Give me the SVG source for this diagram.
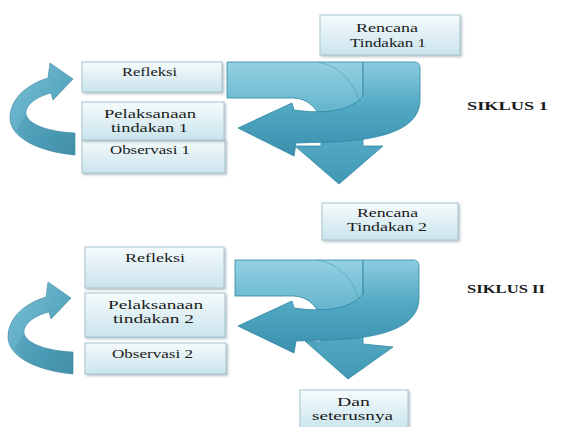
<svg xmlns="http://www.w3.org/2000/svg" width="563" height="427" viewBox="0 0 563 427">
<defs>
<linearGradient id="boxg" x1="0" y1="0" x2="0" y2="1">
<stop offset="0" stop-color="#f6fbfc"/>
<stop offset="1" stop-color="#c9e4ed"/>
</linearGradient>
<linearGradient id="ag" x1="0" y1="0" x2="0" y2="1">
<stop offset="0" stop-color="#94d0e2"/>
<stop offset="0.45" stop-color="#5fb2cb"/>
<stop offset="1" stop-color="#3f98b4"/>
</linearGradient>
<linearGradient id="bg" x1="0" y1="0" x2="0" y2="1">
<stop offset="0" stop-color="#8ccbdf"/>
<stop offset="0.5" stop-color="#4fa7c2"/>
<stop offset="1" stop-color="#3a90ad"/>
</linearGradient>
<linearGradient id="rg" x1="0" y1="0" x2="1" y2="1">
<stop offset="0" stop-color="#7cc2d7"/>
<stop offset="0.6" stop-color="#55a5bf"/>
<stop offset="1" stop-color="#4590aa"/>
</linearGradient>
<filter id="sh" x="-10%" y="-10%" width="130%" height="140%">
<feDropShadow dx="1.5" dy="1.5" stdDeviation="1" flood-color="#6d8791" flood-opacity="0.5"/>
</filter>
</defs>
<style>
.box{fill:url(#boxg);stroke:#a7c4ce;stroke-width:1;filter:url(#sh)}
.t{font-family:'Liberation Serif','DejaVu Serif',serif;font-size:12.5px;fill:#1a1a1a}
.s{font-family:'Liberation Serif','DejaVu Serif',serif;font-size:13px;font-weight:bold;fill:#1a1a1a}
.a{fill:url(#ag);stroke:#2f87a3;stroke-width:0.8}
.b{fill:url(#bg);stroke:#2f87a3;stroke-width:0.8}
.r{fill:url(#rg);stroke:#3a859f;stroke-width:0.6}
.ln{fill:none;stroke:#3d93ae;stroke-width:1;opacity:0.5}
.dk{fill:#3a8aa5;opacity:0.3}
</style>

<g id="connectors">
<path class="a" d="M227,62 H363 V146 H383 L339,184 L295,146 H321 V126 A28,28 0 0 0 293,98 H227 Z"/>
<path class="ln" d="M318,62 C340,66 356,84 361,108"/>
<path class="b" d="M363,62 H414 Q420,62 420,68 V100 C420,126 390,140 330,142 L296,143 L294,156 L238,128 L292,103 L294,110 C322,114 350,112 363,96 Z"/>
<path class="a" d="M235,260 H363 V344 L393,347 L348,379 L305,341 L321,342 V324 A28,28 0 0 0 293,296 H235 Z"/>
<path class="ln" d="M318,260 C340,264 356,282 361,306"/>
<path class="b" d="M363,260 H413 Q419,260 419,266 V298 C419,324 390,338 330,340 L296,341 L294,353 L238,326 L292,301 L294,308 C322,312 350,310 363,294 Z"/>
<g id="ribbon1">
<path class="r" d="M75,155 C40,152 10,138 10,118 C10,98 28,84 48,78 L50,63 L73,79 L53,100 L51,93 C35,97 25,106 26,114 C28,125 50,132 75,133 Z"/>
<path class="dk" d="M26,114 C28,125 50,132 75,133 V155 C48,153 24,143 17,130 C20,124 23,119 26,114 Z"/>
</g>
<g id="ribbon2" transform="translate(-2,219)">
<path class="r" d="M75,155 C40,152 10,138 10,118 C10,98 28,84 48,78 L50,63 L73,79 L53,100 L51,93 C35,97 25,106 26,114 C28,125 50,132 75,133 Z"/>
<path class="dk" d="M26,114 C28,125 50,132 75,133 V155 C48,153 24,143 17,130 C20,124 23,119 26,114 Z"/>
</g>
</g>

<g id="rencana1">
<rect class="box" x="320" y="15" width="140" height="40"/>
<text class="t" x="356" y="32" textLength="62" lengthAdjust="spacingAndGlyphs">Rencana</text>
<text class="t" x="350" y="47" textLength="76" lengthAdjust="spacingAndGlyphs">Tindakan 1</text>
</g>
<g id="refleksi1">
<rect class="box" x="82" y="62" width="140" height="30"/>
<text class="t" x="122" y="76" textLength="55" lengthAdjust="spacingAndGlyphs">Refleksi</text>
</g>
<g id="observasi1">
<rect class="box" x="82" y="140" width="143" height="33"/>
<text class="t" x="110" y="154" textLength="80" lengthAdjust="spacingAndGlyphs">Observasi 1</text>
</g>
<g id="pelaksanaan1">
<rect class="box" x="82" y="102" width="142" height="38"/>
<text class="t" x="104" y="118" textLength="92" lengthAdjust="spacingAndGlyphs">Pelaksanaan</text>
<text class="t" x="111" y="132" textLength="77" lengthAdjust="spacingAndGlyphs">tindakan 1</text>
</g>
<g id="siklus1">
<text class="s" x="467" y="110" textLength="81" lengthAdjust="spacingAndGlyphs">SIKLUS 1</text>
</g>

<g id="rencana2">
<rect class="box" x="322" y="203" width="136" height="37"/>
<text class="t" x="357" y="217" textLength="61" lengthAdjust="spacingAndGlyphs">Rencana</text>
<text class="t" x="347" y="231" textLength="80" lengthAdjust="spacingAndGlyphs">Tindakan 2</text>
</g>
<g id="refleksi2">
<rect class="box" x="85" y="247" width="139" height="41"/>
<text class="t" x="125" y="262" textLength="60" lengthAdjust="spacingAndGlyphs">Refleksi</text>
</g>
<g id="pelaksanaan2">
<rect class="box" x="85" y="293" width="140" height="44"/>
<text class="t" x="108" y="309" textLength="95" lengthAdjust="spacingAndGlyphs">Pelaksanaan</text>
<text class="t" x="113" y="323" textLength="81" lengthAdjust="spacingAndGlyphs">tindakan 2</text>
</g>
<g id="observasi2">
<rect class="box" x="85" y="343" width="141" height="31"/>
<text class="t" x="112" y="358" textLength="81" lengthAdjust="spacingAndGlyphs">Observasi 2</text>
</g>
<g id="siklus2">
<text class="s" x="467" y="293" textLength="78" lengthAdjust="spacingAndGlyphs">SIKLUS II</text>
</g>
<g id="dan">
<rect class="box" x="300" y="390" width="108" height="40"/>
<text class="t" x="337" y="406" textLength="33" lengthAdjust="spacingAndGlyphs">Dan</text>
<text class="t" x="312" y="420" textLength="81" lengthAdjust="spacingAndGlyphs">seterusnya</text>
</g>
</svg>
